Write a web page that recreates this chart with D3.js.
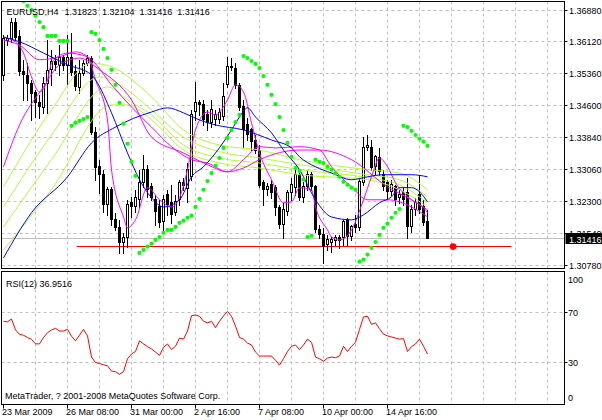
<!DOCTYPE html>
<html><head><meta charset="utf-8">
<script src="https://cdn.jsdelivr.net/npm/d3@7"></script>
<style>
html,body{margin:0;padding:0;background:#fff;}
svg{display:block;font-family:"Liberation Sans",Arial,sans-serif;font-size:9px;}
</style></head><body>
<svg id="c" width="602" height="420"></svg>
<script>
// ---- data ----
const barOpen=[1.3532,1.3616,1.3621,1.3659,1.3624,1.3540,1.3532,1.3513,1.3490,1.3466,1.3456,1.3513,1.3544,1.3564,1.3556,1.3575,1.3556,1.3575,1.3540,1.3504,1.3537,1.3561,1.3573,1.3396,1.3313,1.3294,1.3222,1.3258,1.3186,1.3167,1.3131,1.3143,1.3227,1.3217,1.3234,1.3275,1.3306,1.3265,1.3234,1.3217,1.3181,1.3246,1.3227,1.3203,1.3234,1.3275,1.3260,1.3289,1.3444,1.3466,1.3461,1.3437,1.3418,1.3425,1.3425,1.3432,1.3508,1.3552,1.3549,1.3508,1.3456,1.3413,1.3401,1.3377,1.3353,1.3275,1.3258,1.3270,1.3263,1.3215,1.3174,1.3205,1.3251,1.3263,1.3294,1.3239,1.3265,1.3294,1.3265,1.3162,1.3150,1.3126,1.3131,1.3136,1.3143,1.3143,1.3186,1.3145,1.3174,1.3167,1.3277,1.3360,1.3360,1.3313,1.3334,1.3294,1.3275,1.3253,1.3265,1.3239,1.3251,1.3251,1.3169,1.3210,1.3246,1.3217,1.31823];
const barHigh=[1.3628,1.3628,1.3669,1.3669,1.3640,1.3568,1.3561,1.3520,1.3497,1.3485,1.3528,1.3616,1.3592,1.3580,1.3604,1.3580,1.3628,1.3633,1.3556,1.3568,1.3568,1.3580,1.3578,1.3408,1.3329,1.3306,1.3265,1.3265,1.3203,1.3186,1.3155,1.3234,1.3241,1.3258,1.3306,1.3341,1.3317,1.3275,1.3246,1.3234,1.3246,1.3258,1.3270,1.3246,1.3282,1.3287,1.3322,1.3449,1.3516,1.3473,1.3473,1.3449,1.3473,1.3449,1.3454,1.3513,1.3575,1.3573,1.3561,1.3513,1.3473,1.3430,1.3406,1.3389,1.3365,1.3282,1.3275,1.3282,1.3270,1.3222,1.3227,1.3258,1.3287,1.3310,1.3306,1.3277,1.3306,1.3301,1.3270,1.3174,1.3167,1.3150,1.3145,1.3150,1.3150,1.3186,1.3191,1.3174,1.3198,1.3287,1.3384,1.3389,1.3377,1.3341,1.3358,1.3306,1.3282,1.3282,1.3270,1.3258,1.3263,1.3287,1.3222,1.3239,1.3294,1.3234,1.32104];
const barLow=[1.3520,1.3604,1.3612,1.3616,1.3532,1.3473,1.3473,1.3425,1.3432,1.3430,1.3442,1.3442,1.3508,1.3544,1.3532,1.3544,1.3508,1.3532,1.3497,1.3490,1.3532,1.3556,1.3392,1.3282,1.3251,1.3205,1.3198,1.3174,1.3162,1.3107,1.3107,1.3122,1.3193,1.3205,1.3217,1.3265,1.3241,1.3234,1.3174,1.3169,1.3162,1.3198,1.3179,1.3198,1.3222,1.3258,1.3229,1.3282,1.3425,1.3437,1.3413,1.3401,1.3408,1.3413,1.3418,1.3425,1.3504,1.3544,1.3501,1.3449,1.3360,1.3377,1.3353,1.3346,1.3265,1.3222,1.3246,1.3239,1.3198,1.3167,1.3143,1.3198,1.3234,1.3246,1.3234,1.3229,1.3258,1.3258,1.3157,1.3143,1.3083,1.3114,1.3110,1.3126,1.3119,1.3126,1.3126,1.3138,1.3157,1.3162,1.3270,1.3353,1.3306,1.3294,1.3294,1.3258,1.3239,1.3246,1.3222,1.3227,1.3222,1.3143,1.3157,1.3198,1.3203,1.3174,1.31416];
const barClose=[1.3621,1.3621,1.3659,1.3624,1.3540,1.3532,1.3513,1.3490,1.3466,1.3456,1.3513,1.3544,1.3564,1.3556,1.3575,1.3556,1.3575,1.3540,1.3504,1.3537,1.3561,1.3573,1.3396,1.3313,1.3294,1.3222,1.3258,1.3186,1.3167,1.3131,1.3143,1.3222,1.3217,1.3239,1.3275,1.3306,1.3258,1.3239,1.3205,1.3179,1.3234,1.3222,1.3198,1.3229,1.3275,1.3268,1.3306,1.3437,1.3466,1.3461,1.3425,1.3418,1.3449,1.3437,1.3442,1.3480,1.3552,1.3549,1.3508,1.3456,1.3401,1.3389,1.3372,1.3353,1.3270,1.3258,1.3265,1.3251,1.3215,1.3174,1.3210,1.3251,1.3270,1.3294,1.3239,1.3265,1.3294,1.3265,1.3162,1.3150,1.3122,1.3138,1.3138,1.3143,1.3136,1.3181,1.3145,1.3169,1.3167,1.3277,1.3360,1.3365,1.3313,1.3337,1.3301,1.3265,1.3253,1.3270,1.3234,1.3246,1.3234,1.3169,1.3210,1.3227,1.3210,1.3179,1.31416];

const sarValues=[null,null,null,null,null,1.3710,1.3698,1.3688,1.3674,1.3659,1.3647,1.3626,1.3626,1.3626,1.3614,1.3614,1.3614,1.3411,1.3418,1.3423,1.3427,1.3432,1.3635,1.3631,1.3616,1.3595,1.3573,1.3545,1.3509,1.3466,1.3416,1.3368,1.3325,1.3291,1.3107,1.3114,1.3122,1.3129,1.3138,1.3145,1.3155,1.3162,1.3162,1.3169,1.3179,1.3184,1.3191,1.3196,1.3217,1.3236,1.3258,1.3279,1.3298,1.3315,1.3334,1.3358,1.3382,1.3401,1.3420,1.3437,1.3578,1.3573,1.3566,1.3559,1.3549,1.3530,1.3509,1.3485,1.3463,1.3432,1.3401,1.3370,1.3337,1.3310,1.3303,1.3282,1.3145,1.3148,1.3330,1.3325,1.3322,1.3313,1.3306,1.3298,1.3289,1.3277,1.3270,1.3263,1.3258,1.3086,1.3091,1.3103,1.3119,1.3133,1.3150,1.3167,1.3177,1.3191,1.3203,1.3212,1.3411,1.3408,1.3399,1.3389,1.3380,1.3373,1.3363];

const blueFast=[[0,1.3623],[4,1.3612],[10,1.3585],[16,1.3557],[22,1.3533],[23,1.3521],[27,1.3442],[31,1.3346],[34,1.3282],[37,1.3239],[40,1.3217],[44,1.3234],[47,1.3289],[50,1.3313],[53,1.3346],[57,1.3401],[59,1.3432],[61,1.3454],[63,1.3432],[67,1.3394],[70,1.3353],[74,1.3306],[78,1.3234],[82,1.3193],[87,1.3186],[90,1.3198],[94,1.3227],[97,1.3241],[99,1.3263],[102,1.3263],[104,1.3253],[106,1.3229]];
const blueSlow=[[0,1.3095],[7,1.3203],[16,1.3289],[22,1.3370],[28,1.3408],[37,1.3444],[41,1.3454],[45,1.3442],[49,1.3425],[53,1.3413],[60,1.3401],[67,1.3377],[72,1.3358],[74,1.3337],[78,1.3313],[82,1.3298],[87,1.3282],[91,1.3289],[95,1.3294],[102,1.3294],[106,1.3289]];
const magentaFast=[[0,1.3623],[3,1.3612],[5,1.3585],[7,1.3528],[9,1.3492],[11,1.3521],[12,1.3561],[16,1.3585],[21,1.3576],[23,1.3521],[26,1.3425],[27,1.3306],[30,1.3193],[31,1.3167],[33,1.3186],[36,1.3263],[39,1.3234],[42,1.3217],[44,1.3239],[46,1.3306],[48,1.3401],[51,1.3444],[53,1.3437],[56,1.3473],[58,1.3509],[60,1.3492],[62,1.3418],[64,1.3346],[67,1.3282],[70,1.3227],[72,1.3229],[74,1.3263],[77,1.3258],[78,1.3217],[81,1.3162],[82,1.3145],[84,1.3138],[87,1.3162],[90,1.3234],[92,1.3289],[94,1.3334],[96,1.3313],[98,1.3275],[102,1.3234],[105,1.3215],[106,1.3203]];
const magentaMid=[[0,1.3616],[4,1.3604],[9,1.3569],[14,1.3576],[18,1.3588],[22,1.3569],[27,1.3509],[32,1.3456],[37,1.3408],[42,1.3361],[47,1.3330],[51,1.3322],[56,1.3301],[60,1.3330],[64,1.3361],[68,1.3358],[74,1.3361],[79,1.3353],[82,1.3313],[87,1.3265],[91,1.3234],[96,1.3234],[102,1.3217],[106,1.3193]];
const magentaSlow=[[0,1.3313],[4,1.3413],[10,1.3504],[14,1.3557],[19,1.3573],[24,1.3545],[32,1.3473],[37,1.3384],[45,1.3346],[51,1.3318],[56,1.3301],[60,1.3310],[64,1.3330],[74,1.3353],[79,1.3353],[87,1.3330],[96,1.3265],[102,1.3234],[106,1.3210]];
const yellowGreen1=[[0,1.3265],[12,1.3449],[22,1.3561],[27,1.3552],[37,1.3480],[45,1.3401],[54,1.3365],[64,1.3353],[74,1.3330],[91,1.3306],[99,1.3298],[106,1.3258]];
const yellowGreen2=[[0,1.3217],[12,1.3389],[24,1.3528],[29,1.3509],[37,1.3449],[45,1.3384],[54,1.3349],[64,1.3334],[74,1.3318],[91,1.3294],[99,1.3282],[106,1.3241]];
const yellowGreen3=[[0,1.3169],[12,1.3330],[26,1.3504],[31,1.3473],[37,1.3437],[45,1.3365],[54,1.3334],[64,1.3322],[74,1.3306],[91,1.3287],[99,1.3270],[106,1.3227]];
const yellowGreen4=[[0,1.3114],[12,1.3258],[27,1.3461],[31,1.3461],[37,1.3425],[45,1.3353],[54,1.3322],[64,1.3310],[74,1.3294],[91,1.3282],[99,1.3258],[106,1.3217]];

const rsiValues=[62.8,62.3,64.6,56,52.5,51.8,50,48.5,45,45,50,53.8,56,57.2,55.1,55.1,56.4,51,47.4,51.8,56.4,51.3,34.6,30.3,29.5,28.5,27.7,23.6,23.1,21.0,23.1,33.3,37,39,47.4,45,42.8,41,38.5,35.9,42.3,44.9,40.5,43.1,49.5,48.7,55.1,67.2,67.7,66.7,62.8,61.5,62.8,57.7,62.8,67,70.5,66.7,59,50,48.7,45.6,44.1,38.5,35.4,35.4,35.4,35.4,32.1,28.2,33.3,39,43.1,44.1,40.5,44.1,48.7,46.2,34.6,33.3,31.3,33.8,34.6,34.1,35.4,43.1,39,43.1,46.2,56.4,66.2,66.7,60.3,61.5,56.9,52.6,51.3,50.4,49.5,48.7,49.2,39,42.8,44.9,48.7,43.1,36.95];

const priceLabels=["1.36880","1.36120","1.35360","1.34600","1.33840","1.33060","1.32300","1.31540","1.30780"];
const timeLabels=["23 Mar 2009","26 Mar 08:00","31 Mar 00:00","2 Apr 16:00","7 Apr 08:00","10 Apr 00:00","14 Apr 16:00"];
const timeLabelBars=[0,16,32,48,64,80,96];
const rsiLevels=[70,30];
const bidPrice=1.31416;
const titleParts=["EURUSD,H4","1.31823","1.32104","1.31416","1.31416"];
const rsiTitle="RSI(12) 36.9516";
const copyright="MetaTrader, ? 2001-2008 MetaQuotes Software Corp.";
const supportLevel=1.3122, supportFrom=18.3, supportTo=127, markerBar=112.4;

// ---- layout ----
const svg=d3.select("#c");
const L=1.5,R=564.5,MT=1.5,MB=268.5,RT=271.5,RB=404.5;
const x=d3.scaleLinear().domain([0,140]).range([3.5,563.5]);
const y=d3.scaleLinear().domain([1.3078,1.3688]).range([265,10]);
const ry=d3.scaleLinear().domain([0,100]).range([401,274]);
const crisp=v=>Math.round(v-0.5)+0.5;
const grid="#c0c0c0";

svg.append("rect").attr("width",602).attr("height",420).attr("fill","#fff");
const defs=svg.append("defs");
defs.append("clipPath").attr("id","mainClip").append("rect").attr("x",L).attr("y",MT).attr("width",R-L).attr("height",MB-MT);
defs.append("clipPath").attr("id","rsiClip").append("rect").attr("x",L).attr("y",RT).attr("width",R-L).attr("height",RB-RT);

// vertical grid
const vBars=d3.range(8,140,8);
[[MT,MB],[RT,RB]].forEach(([t,b])=>{
  svg.append("g").selectAll("line").data(vBars).join("line")
    .attr("x1",d=>crisp(x(d))).attr("x2",d=>crisp(x(d))).attr("y1",t).attr("y2",b)
    .attr("stroke",grid).attr("stroke-dasharray","3,3");
});
// price ticks: evenly spaced grid between extreme labels
const pMin=+priceLabels[priceLabels.length-1], pMax=+priceLabels[0];
const pTicks=priceLabels.map((s,i)=>({s,v:pMax-(pMax-pMin)*i/(priceLabels.length-1)}));
svg.append("g").selectAll("line").data(pTicks).join("line")
  .attr("x1",L).attr("x2",R).attr("y1",d=>crisp(y(d.v))).attr("y2",d=>crisp(y(d.v)))
  .attr("stroke",grid).attr("stroke-dasharray","3,3");
svg.append("g").selectAll("line").data(rsiLevels).join("line")
  .attr("x1",L).attr("x2",R).attr("y1",d=>crisp(ry(d))).attr("y2",d=>crisp(ry(d)))
  .attr("stroke",grid).attr("stroke-dasharray","3,3");

// bid line
svg.append("line").attr("x1",L).attr("x2",R).attr("y1",crisp(y(bidPrice))).attr("y2",crisp(y(bidPrice)))
  .attr("stroke","#c0c0c0");

const main=svg.append("g").attr("clip-path","url(#mainClip)");
// support line
main.append("line").attr("x1",x(supportFrom)).attr("x2",x(supportTo))
  .attr("y1",crisp(y(supportLevel))).attr("y2",crisp(y(supportLevel))).attr("stroke","#ff0000");

// candles
const bars=barOpen.map((o,i)=>({i,o,h:barHigh[i],l:barLow[i],c:barClose[i]}));
const cg=main.append("g");
cg.selectAll("line").data(bars).join("line")
  .attr("x1",d=>x(d.i)).attr("x2",d=>x(d.i))
  .attr("y1",d=>Math.round(y(d.h))).attr("y2",d=>Math.round(y(d.l))+1)
  .attr("stroke","#000");
cg.selectAll("rect").data(bars).join("rect")
  .attr("x",d=>x(d.i)-1).attr("width",2)
  .attr("y",d=>crisp(y(Math.max(d.o,d.c))))
  .attr("height",d=>Math.max(0.01,Math.round(y(Math.min(d.o,d.c)))-Math.round(y(Math.max(d.o,d.c)))))
  .attr("fill",d=>d.c>=d.o?"#fff":"#000").attr("stroke","#000");

// moving averages
const ln=d3.line().x(d=>x(d[0])).y(d=>y(d[1])).curve(d3.curveMonotoneX);
const maSeries=[
  [yellowGreen1,"#adff2f"],[yellowGreen2,"#adff2f"],[yellowGreen3,"#adff2f"],[yellowGreen4,"#adff2f"],
  [magentaSlow,"#ff00ff"],[magentaMid,"#ff00ff"],[magentaFast,"#ff00ff"],
  [blueSlow,"#0000ff"],[blueFast,"#0000ff"]];
main.append("g").selectAll("path").data(maSeries).join("path")
  .attr("d",d=>ln(d[0])).attr("fill","none").attr("stroke",d=>d[1]).attr("stroke-width",1);

// parabolic SAR
main.append("g").selectAll("circle").data(sarValues.map((v,i)=>[i,v]).filter(d=>d[1]!=null)).join("circle")
  .attr("cx",d=>x(d[0])).attr("cy",d=>y(d[1])).attr("r",2.1).attr("fill","#00ff00");

// marker dot
main.append("circle").attr("cx",x(markerBar)).attr("cy",y(supportLevel)).attr("r",3.3).attr("fill","#ff0000");

// RSI line
svg.append("g").attr("clip-path","url(#rsiClip)").append("path")
  .attr("d",d3.line().x((d,i)=>x(i)).y(d=>ry(d))(rsiValues))
  .attr("fill","none").attr("stroke","#ff0000").attr("stroke-width",1);

// frames
svg.append("rect").attr("x",L).attr("y",MT).attr("width",R-L).attr("height",MB-MT).attr("fill","none").attr("stroke","#000");
svg.append("rect").attr("x",L).attr("y",RT).attr("width",R-L).attr("height",RB-RT).attr("fill","none").attr("stroke","#000");

// price axis
const pa=svg.append("g");
pa.selectAll("line").data(pTicks).join("line")
  .attr("x1",R).attr("x2",R+3).attr("y1",d=>crisp(y(d.v))).attr("y2",d=>crisp(y(d.v))).attr("stroke","#000");
pa.selectAll("text").data(pTicks).join("text")
  .attr("x",569).attr("y",d=>y(d.v)+3.5).text(d=>d.s).attr("fill","#000");
// bid label (covers the lower half of the neighbouring tick label, as in the terminal)
const by=crisp(y(bidPrice));
svg.append("rect").attr("x",R+1).attr("y",by-5.5).attr("width",602-R).attr("height",11).attr("fill","#000");
svg.append("text").attr("x",569).attr("y",by+4).attr("fill","#fff").text(d3.format(".5f")(bidPrice));

// RSI axis labels
const rsiAxisVals=[100,70,30,0];
svg.append("g").selectAll("text").data(rsiAxisVals).join("text")
  .attr("x",568).attr("y",d=>d===100?ry(d)+9:d===0?ry(d)-0.5:ry(d)+3.5).text(d=>d);
svg.append("g").selectAll("line").data(rsiLevels).join("line")
  .attr("x1",R).attr("x2",R+3).attr("y1",d=>crisp(ry(d))).attr("y2",d=>crisp(ry(d))).attr("stroke","#000");

// time axis
const ta=svg.append("g");
ta.selectAll("line").data(timeLabelBars).join("line")
  .attr("x1",d=>crisp(x(d))).attr("x2",d=>crisp(x(d))).attr("y1",RB).attr("y2",RB+4).attr("stroke","#000");
ta.selectAll("text").data(timeLabels).join("text")
  .attr("x",(d,i)=>x(timeLabelBars[i])-1.5).attr("y",415).text(d=>d);

// titles
let tx=6.5;
const tg=svg.append("g");
titleParts.forEach((s,i)=>{
  const t=tg.append("text").attr("x",tx).attr("y",15).text(s);
  tx+=t.node().getComputedTextLength()+(i===0?6:5);
});
svg.append("text").attr("x",6).attr("y",287).text(rsiTitle);
svg.append("text").attr("x",5).attr("y",398.5).text(copyright);
</script>
</body></html>
